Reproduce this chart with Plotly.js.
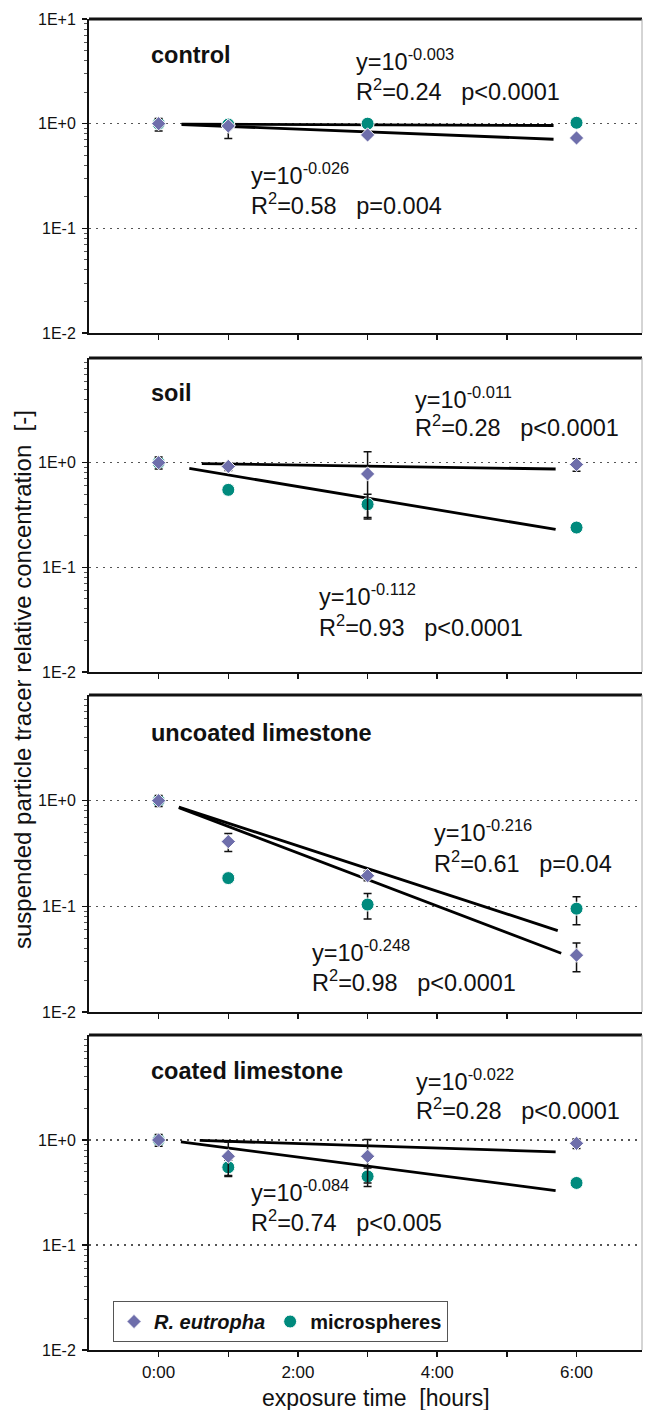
<!DOCTYPE html>
<html>
<head>
<meta charset="utf-8">
<script src="https://cdn.plot.ly/plotly-3.0.1.min.js"></script>
<style>html,body{margin:0;padding:0;background:#fff;}#chart{width:646px;height:1410px;}</style>
</head>
<body>
<div id="chart"></div>
<script>
// ---------- data ----------
const hours = [0, 1, 3, 6];
const panelNames = ['control', 'soil', 'uncoated limestone', 'coated limestone'];
const xTickVals = [0, 1, 2, 3, 4, 5, 6];
const xTickText = ['0:00', '', '2:00', '', '4:00', '', '6:00'];
const yTickVals = [0.01, 0.1, 1, 10];
const yTickText = ['1E-2', '1E-1', '1E+0', '1E+1'];
const yMinorVals = [0.02,0.03,0.04,0.05,0.06,0.07,0.08,0.09,0.2,0.3,0.4,0.5,0.6,0.7,0.8,0.9,2,3,4,5,6,7,8,9];

// R. eutropha (diamonds) values and errors per panel (plus / minus)
const reuControl = [1.0, 0.95, 0.78, 0.73];
const reuControlErrUp = [0.12, 0.03, 0.03, 0.03];
const reuControlErrDown = [0.15, 0.23, 0.03, 0.03];
const reuSoil = [1.0, 0.92, 0.78, 0.96];
const reuSoilErr = [0.13, 0.08, 0.49, 0.13];
const reuUncoated = [1.0, 0.41, 0.195, 0.0345];
const reuUncoatedErr = [0.12, 0.08, 0.02, 0.0105];
const reuCoated = [1.0, 0.70, 0.70, 0.93];
const reuCoatedErr = [0.13, 0.25, 0.31, 0.10];

// microspheres (circles)
const micControl = [1.0, 0.98, 1.0, 1.02];
const micControlErr = [0.03, 0.03, 0.03, 0.03];
const micSoil = [1.0, 0.55, 0.40, 0.24];
const micSoilErr = [0.05, 0.03, 0.10, 0.02];
const micUncoated = [1.0, 0.185, 0.104, 0.095];
const micUncoatedErr = [0.05, 0.01, 0.028, 0.028];
const micCoated = [1.0, 0.55, 0.45, 0.39];
const micCoatedErr = [0.05, 0.09, 0.09, 0.02];

// regression lines (endpoints)
const fitControlMicX = [0.33, 5.67], fitControlMicY = [0.99, 0.96];
const fitControlReuX = [0.33, 5.67], fitControlReuY = [0.98, 0.71];
const fitSoilReuX = [0.62, 5.70], fitSoilReuY = [0.98, 0.87];
const fitSoilMicX = [0.44, 5.70], fitSoilMicY = [0.88, 0.23];
const fitUncMicX = [0.29, 5.73], fitUncMicY = [0.87, 0.059];
const fitUncReuX = [0.29, 5.78], fitUncReuY = [0.86, 0.036];
const fitCoatReuX = [0.59, 5.70], fitCoatReuY = [0.99, 0.77];
const fitCoatMicX = [0.32, 5.70], fitCoatMicY = [0.96, 0.33];

// annotation texts
const eqText = [
  ['y=10<sup>-0.003</sup>', 'R<sup>2</sup>=0.24\u00A0\u00A0\u00A0p&lt;0.0001', 'y=10<sup>-0.026</sup>', 'R<sup>2</sup>=0.58\u00A0\u00A0\u00A0p=0.004'],
  ['y=10<sup>-0.011</sup>', 'R<sup>2</sup>=0.28\u00A0\u00A0\u00A0p&lt;0.0001', 'y=10<sup>-0.112</sup>', 'R<sup>2</sup>=0.93\u00A0\u00A0\u00A0p&lt;0.0001'],
  ['y=10<sup>-0.216</sup>', 'R<sup>2</sup>=0.61\u00A0\u00A0\u00A0p=0.04', 'y=10<sup>-0.248</sup>', 'R<sup>2</sup>=0.98\u00A0\u00A0\u00A0p&lt;0.0001'],
  ['y=10<sup>-0.022</sup>', 'R<sup>2</sup>=0.28\u00A0\u00A0\u00A0p&lt;0.0001', 'y=10<sup>-0.084</sup>', 'R<sup>2</sup>=0.74\u00A0\u00A0\u00A0p&lt;0.005']
];

// ---------- styling / layout ----------
const FONT = 'Liberation Sans, Arial, Helvetica, sans-serif';
const W = 646, H = 1410;
const M = {l: 89, r: 4, t: 19, b: 60};
const PW = W - M.l - M.r, PH = H - M.t - M.b;
const panelPx = [[19, 333], [358, 672], [695, 1012], [1035, 1350]];
const REU_COLOR = '#6e6eab';
const MIC_COLOR = '#008a7d';

function pxX(px) { return (px - M.l) / PW; }
function pxY(py) { return (H - M.b - py) / PH; }

const reuSets = [[reuControl, reuControlErrUp, reuControlErrDown], [reuSoil, reuSoilErr, reuSoilErr], [reuUncoated, reuUncoatedErr, reuUncoatedErr], [reuCoated, reuCoatedErr, reuCoatedErr]];
const micSets = [[micControl, micControlErr], [micSoil, micSoilErr], [micUncoated, micUncoatedErr], [micCoated, micCoatedErr]];
const fitSets = [
  [[fitControlMicX, fitControlMicY], [fitControlReuX, fitControlReuY]],
  [[fitSoilReuX, fitSoilReuY], [fitSoilMicX, fitSoilMicY]],
  [[fitUncMicX, fitUncMicY], [fitUncReuX, fitUncReuY]],
  [[fitCoatReuX, fitCoatReuY], [fitCoatMicX, fitCoatMicY]]
];

const traces = [];
const layout = {
  width: W, height: H,
  margin: M,
  paper_bgcolor: '#fff', plot_bgcolor: '#fff',
  font: {family: FONT, color: '#111'},
  showlegend: true,
  legend: {
    orientation: 'h', x: pxX(113), y: pxY(1301), xanchor: 'left', yanchor: 'top',
    bgcolor: '#fff', bordercolor: '#555', borderwidth: 1,
    font: {family: FONT, size: 20, color: '#111'},
    itemclick: false, tracegroupgap: 0
  },
  annotations: [], shapes: []
};

for (let i = 0; i < 4; i++) {
  const xa = 'x' + (i ? i + 1 : ''), ya = 'y' + (i ? i + 1 : '');
  const xKey = 'xaxis' + (i ? i + 1 : ''), yKey = 'yaxis' + (i ? i + 1 : '');
  const top = panelPx[i][0], bot = panelPx[i][1];
  layout[xKey] = {
    domain: [0, 1], anchor: ya, range: [-1, 6.94],
    tickmode: 'array', tickvals: xTickVals, ticktext: xTickText,
    showticklabels: i === 3, ticks: 'outside', ticklen: 5, tickwidth: 1.5, tickcolor: '#111',
    showline: true, linecolor: '#111', linewidth: 2, showgrid: false, zeroline: false,
    tickfont: {family: FONT, size: 17, color: '#111'}, ticklabelstandoff: 1
  };
  layout[yKey] = {
    type: 'log', domain: [pxY(bot), pxY(top)], anchor: xa, range: [-2, 1],
    tickmode: 'array', tickvals: i === 0 ? yTickVals : yTickVals.slice(0, 3),
    ticktext: i === 0 ? yTickText : yTickText.slice(0, 3),
    ticks: 'outside', ticklen: 5, tickwidth: 1.5, tickcolor: '#111',
    minor: {tickmode: 'array', tickvals: yMinorVals, ticks: 'outside', ticklen: 3, tickwidth: 1, tickcolor: '#555', showgrid: false},
    showline: true, linecolor: '#111', linewidth: 2,
    showgrid: true, gridcolor: '#555', gridwidth: 1.5, griddash: '2px,5px', zeroline: false,
    tickfont: {family: FONT, size: 16, color: '#111'}, ticklabelstandoff: 3
  };
  layout.shapes.push({type: 'line', xref: 'paper', yref: 'paper', x0: 0, x1: 1, y0: pxY(top), y1: pxY(top), line: {color: '#111', width: 3}});
  layout.shapes.push({type: 'line', xref: 'paper', yref: 'paper', x0: 1, x1: 1, y0: pxY(bot), y1: pxY(top), line: {color: '#aaa', width: 1}});

  fitSets[i].forEach(f => traces.push({
    x: f[0], y: f[1], xaxis: xa, yaxis: ya, mode: 'lines', type: 'scatter',
    line: {color: '#000', width: 2.8}, showlegend: false, hoverinfo: 'skip'
  }));
  traces.push({
    x: hours, y: micSets[i][0], xaxis: xa, yaxis: ya, type: 'scatter', mode: 'markers',
    name: '<b>microspheres</b>', legendrank: 2, showlegend: i === 3,
    marker: {symbol: 'circle', size: 13, color: MIC_COLOR, line: {color: '#fff', width: 1}},
    error_y: {type: 'data', array: micSets[i][1], visible: true, color: '#111', thickness: 1.5, width: 4}
  });
  traces.push({
    x: hours, y: reuSets[i][0], xaxis: xa, yaxis: ya, type: 'scatter', mode: 'markers',
    name: '<b><i>R. eutropha</i></b>', legendrank: 1, showlegend: i === 3,
    marker: {symbol: 'diamond', size: 11, color: REU_COLOR, line: {color: '#fff', width: 1}},
    error_y: {type: 'data', symmetric: false, array: reuSets[i][1], arrayminus: reuSets[i][2], visible: true, color: '#111', thickness: 1.5, width: 4}
  });
}

function ann(text, px, py, size, extra) {
  return Object.assign({
    xref: 'paper', yref: 'paper', x: pxX(px), y: pxY(py), xanchor: 'left', yanchor: 'middle',
    showarrow: false, text: text, font: {family: FONT, size: size, color: '#111'}
  }, extra || {});
}

const titlePos = [55, 393, 733, 1071];
const eqPos = [
  [[354, 60], [354, 90], [249, 174], [249, 204]],
  [[413, 398], [413, 426], [317, 595], [317, 626]],
  [[432, 831], [432, 862], [310, 951], [310, 981]],
  [[414, 1080], [414, 1109], [249, 1191], [249, 1221]]
];
for (let i = 0; i < 4; i++) {
  layout.annotations.push(ann('<b>' + panelNames[i] + '</b>', 149, titlePos[i], 23.5));
  for (let k = 0; k < 4; k++) {
    layout.annotations.push(ann(eqText[i][k], eqPos[i][k][0], eqPos[i][k][1], 23.5));
  }
}
layout.annotations.push(ann('suspended particle tracer relative concentration\u00A0\u00A0[-]', 23, 680, 24, {xanchor: 'center', textangle: -90}));
layout.annotations.push(ann('exposure time\u00A0\u00A0[hours]', 376, 1398, 23, {xanchor: 'center'}));

Plotly.newPlot('chart', traces, layout, {displayModeBar: false, staticPlot: true});
</script>
</body>
</html>
